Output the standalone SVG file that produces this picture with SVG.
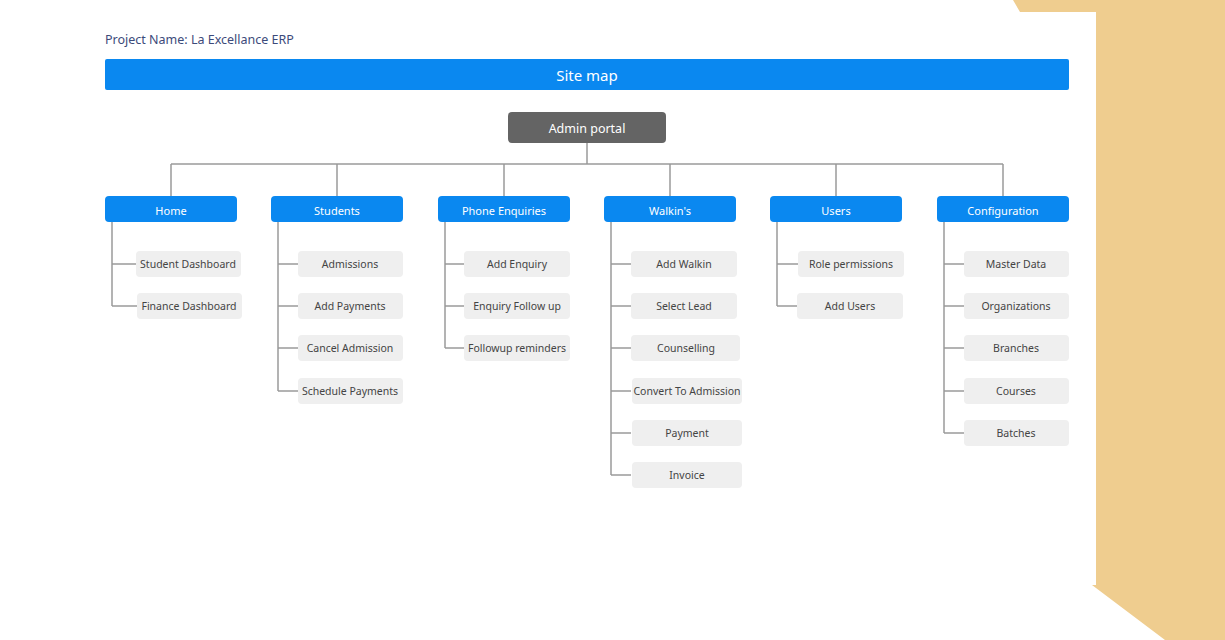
<svg xmlns="http://www.w3.org/2000/svg" width="1225" height="640" viewBox="0 0 1225 640">
<style>
text{font-family:"Noto Sans","Open Sans",sans-serif;text-anchor:middle;dominant-baseline:central}
.cat rect{fill:#0a88f0}.cat text{fill:#fff;font-size:11px}
.leaf rect{fill:#efefef}.leaf text{fill:#444;font-size:10.5px}
.c{fill:none;stroke:#9a9a9a;stroke-width:1.5}
</style>
<rect width="1225" height="640" fill="#fff"/>
<polygon points="1013,0 1225,0 1225,640 1165,640 1092,585 1096,585 1096,12 1020,12" fill="#efcd8f"/>
<text x="105" y="39" style="text-anchor:start;font-size:12.5px;fill:#3c4a7a">Project Name: La Excellance ERP</text>
<g id="sitemap"><rect x="105" y="59" width="964" height="31" rx="2" fill="#0a88f0"/><text x="587" y="74.5" fill="#fff" font-size="15">Site map</text></g>
<g id="connectors" class="c">
<path d="M587 143V164M171 164H1003M171 164V196M337 164V196M504 164V196M670 164V196M836 164V196M1003 164V196"/>
<path d="M112 222V306M112 264H137M112 306H137"/>
<path d="M278 222V391M278 264H298M278 306H298M278 348H298M278 391H298"/>
<path d="M445 222V348M445 264H464M445 306H464M445 348H464"/>
<path d="M611 222V475M611 264H631M611 306H631M611 348H631M611 391H631M611 433H631M611 475H631"/>
<path d="M777 222V306M777 264H798M777 306H798"/>
<path d="M944 222V433M944 264H964M944 306H964M944 348H964M944 391H964M944 433H964"/>
</g>
<g id="admin"><rect x="508" y="112" width="158" height="31" rx="4" fill="#646464"/><text x="587" y="128" fill="#fff" font-size="12.5">Admin portal</text></g>
<g id="home" class="cat"><rect x="105" y="196" width="132" height="26" rx="4"/><text x="171" y="210">Home</text></g>
<g id="students" class="cat"><rect x="271" y="196" width="132" height="26" rx="4"/><text x="337" y="210">Students</text></g>
<g id="phone" class="cat"><rect x="438" y="196" width="132" height="26" rx="4"/><text x="504" y="210">Phone Enquiries</text></g>
<g id="walkins" class="cat"><rect x="604" y="196" width="132" height="26" rx="4"/><text x="670" y="210">Walkin's</text></g>
<g id="users" class="cat"><rect x="770" y="196" width="132" height="26" rx="4"/><text x="836" y="210">Users</text></g>
<g id="config" class="cat"><rect x="937" y="196" width="132" height="26" rx="4"/><text x="1003" y="210">Configuration</text></g>
<g id="l1" class="leaf"><rect x="136" y="251" width="105" height="26" rx="4"/><text x="188" y="264">Student Dashboard</text></g>
<g id="l2" class="leaf"><rect x="137" y="293" width="105" height="26" rx="4"/><text x="189" y="306">Finance Dashboard</text></g>
<g id="l3" class="leaf"><rect x="298" y="251" width="105" height="26" rx="4"/><text x="350" y="264">Admissions</text></g>
<g id="l4" class="leaf"><rect x="298" y="293" width="105" height="26" rx="4"/><text x="350" y="306">Add Payments</text></g>
<g id="l5" class="leaf"><rect x="298" y="335" width="105" height="26" rx="4"/><text x="350" y="348">Cancel Admission</text></g>
<g id="l6" class="leaf"><rect x="298" y="378" width="105" height="26" rx="4"/><text x="350" y="391">Schedule Payments</text></g>
<g id="l7" class="leaf"><rect x="464" y="251" width="106" height="26" rx="4"/><text x="517" y="264">Add Enquiry</text></g>
<g id="l8" class="leaf"><rect x="464" y="293" width="106" height="26" rx="4"/><text x="517" y="306">Enquiry Follow up</text></g>
<g id="l9" class="leaf"><rect x="464" y="335" width="106" height="26" rx="4"/><text x="517" y="348">Followup reminders</text></g>
<g id="l10" class="leaf"><rect x="631" y="251" width="106" height="26" rx="4"/><text x="684" y="264">Add Walkin</text></g>
<g id="l11" class="leaf"><rect x="631" y="293" width="106" height="26" rx="4"/><text x="684" y="306">Select Lead</text></g>
<g id="l12" class="leaf"><rect x="631" y="335" width="109" height="26" rx="4"/><text x="686" y="348">Counselling</text></g>
<g id="l13" class="leaf"><rect x="632" y="378" width="110" height="26" rx="4"/><text x="687" y="391">Convert To Admission</text></g>
<g id="l14" class="leaf"><rect x="632" y="420" width="110" height="26" rx="4"/><text x="687" y="433">Payment</text></g>
<g id="l15" class="leaf"><rect x="632" y="462" width="110" height="26" rx="4"/><text x="687" y="475">Invoice</text></g>
<g id="l16" class="leaf"><rect x="798" y="251" width="106" height="26" rx="4"/><text x="851" y="264">Role permissions</text></g>
<g id="l17" class="leaf"><rect x="797" y="293" width="106" height="26" rx="4"/><text x="850" y="306">Add Users</text></g>
<g id="l18" class="leaf"><rect x="964" y="251" width="105" height="26" rx="4"/><text x="1016" y="264">Master Data</text></g>
<g id="l19" class="leaf"><rect x="964" y="293" width="105" height="26" rx="4"/><text x="1016" y="306">Organizations</text></g>
<g id="l20" class="leaf"><rect x="964" y="335" width="105" height="26" rx="4"/><text x="1016" y="348">Branches</text></g>
<g id="l21" class="leaf"><rect x="964" y="378" width="105" height="26" rx="4"/><text x="1016" y="391">Courses</text></g>
<g id="l22" class="leaf"><rect x="964" y="420" width="105" height="26" rx="4"/><text x="1016" y="433">Batches</text></g>
</svg>
